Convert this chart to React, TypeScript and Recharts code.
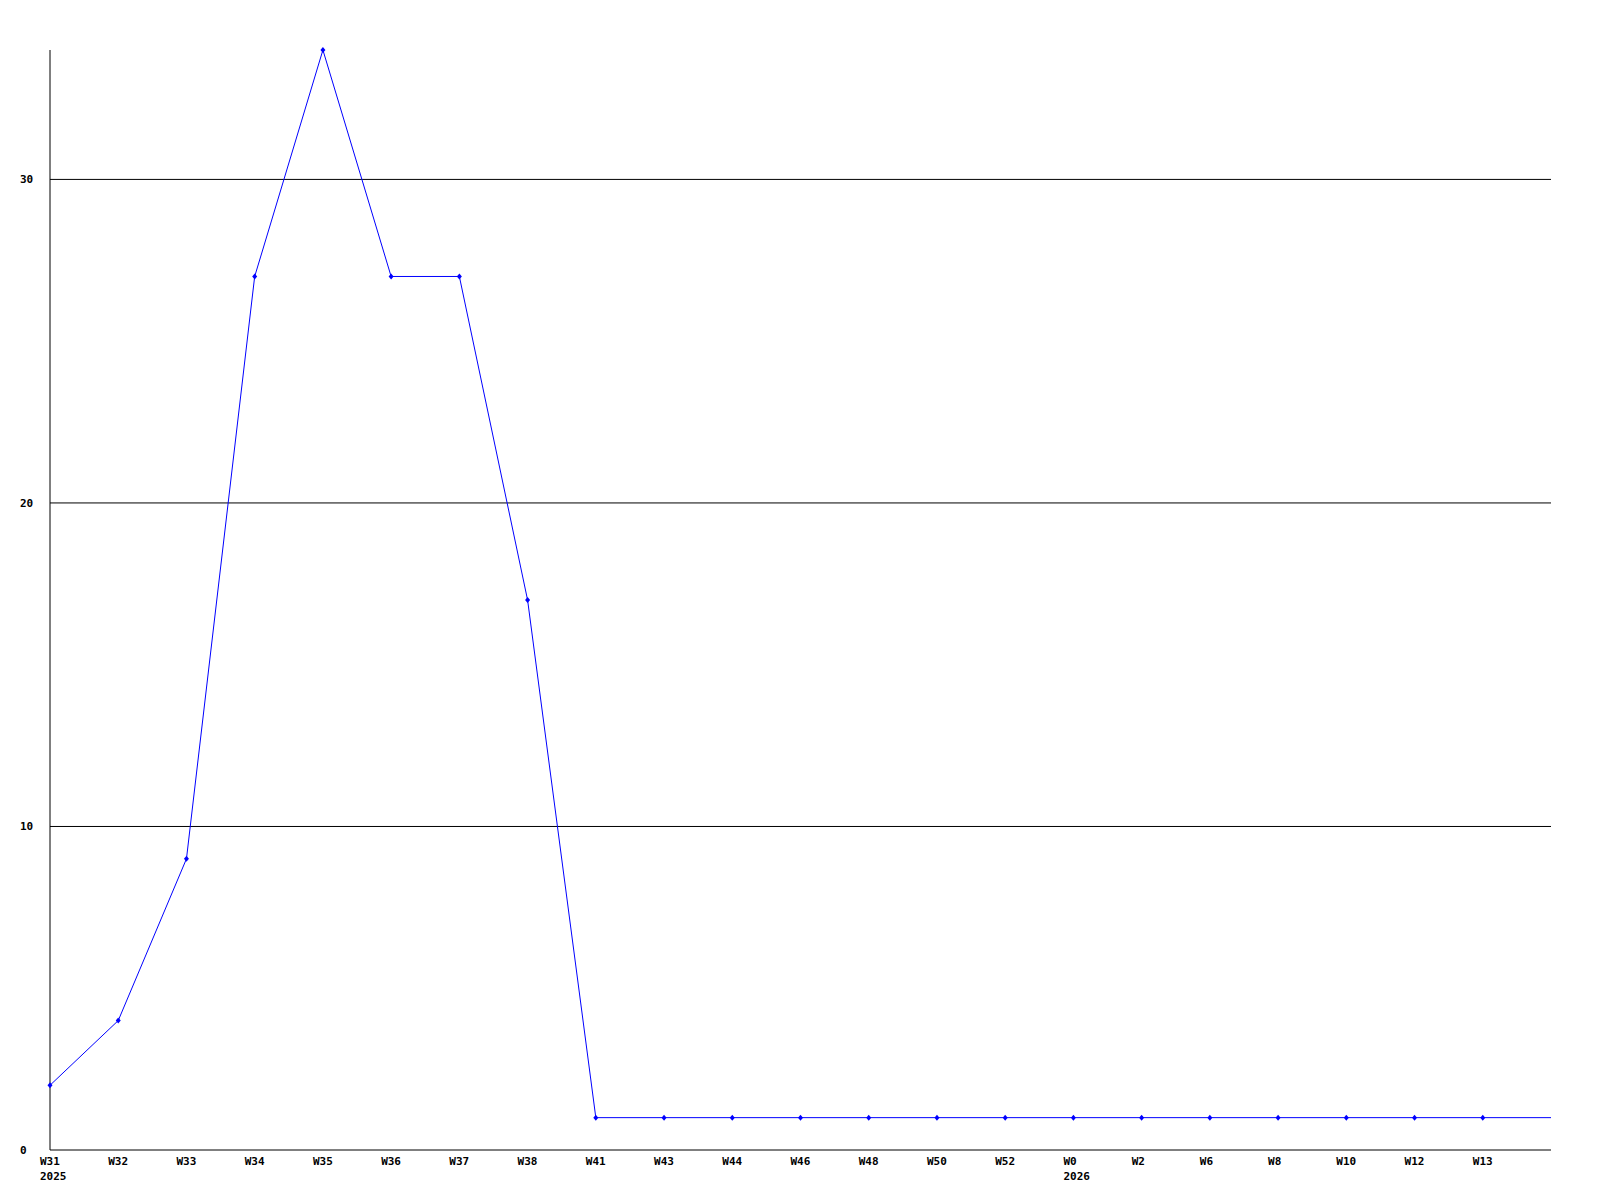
import { LineChart, Line, XAxis, YAxis, ReferenceLine } from 'recharts';

const weeks = ['W31', 'W32', 'W33', 'W34', 'W35', 'W36', 'W37', 'W38', 'W41', 'W43', 'W44', 'W46', 'W48', 'W50', 'W52', 'W0', 'W2', 'W6', 'W8', 'W10', 'W12', 'W13', ''];
const years = ['2025', '', '', '', '', '', '', '', '', '', '', '', '', '', '', '2026', '', '', '', '', '', '', ''];
const counts = [2, 4, 9, 27, 34, 27, 27, 17, 1, 1, 1, 1, 1, 1, 1, 1, 1, 1, 1, 1, 1, 1, 1];
const yTicks = [0, 10, 20, 30];

const data = weeks.map((w, i) => ({ week: w, year: years[i], count: counts[i] }));

const FONT = '"DejaVu Sans Mono", "Liberation Mono", monospace';

function WeekTick({ x, y, payload, index }: any) {
  const year = years[index];
  return (
    <g>
      <text x={x - 10} y={y + 7} fontFamily={FONT} fontSize={11} fontWeight="bold" fill="#000">
        {payload.value}
      </text>
      {year && (
        <text x={x - 10} y={y + 22} fontFamily={FONT} fontSize={11} fontWeight="bold" fill="#000">
          {year}
        </text>
      )}
    </g>
  );
}

function CountTick({ y, payload }: any) {
  return (
    <text x={20} y={y + 4} fontFamily={FONT} fontSize={11} fontWeight="bold" fill="#000">
      {payload.value}
    </text>
  );
}

function Marker({ cx, cy, index }: any) {
  if (index === counts.length - 1) return <g key={index} />;
  return (
    <path
      key={index}
      d={`M${cx},${cy - 3} L${cx + 2.5},${cy} L${cx},${cy + 3} L${cx - 2.5},${cy} Z`}
      fill="#0000ff"
    />
  );
}

export default function App() {
  return (
    <div style={{ position: 'absolute', left: 0, top: 0, background: '#fff' }}>
      <LineChart width={1600} height={1200} data={data} margin={{ top: 50, right: 49, bottom: 0, left: 0 }}>
        <XAxis
          dataKey="week"
          scale="point"
          padding={{ left: 0, right: 0 }}
          interval={0}
          height={50}
          axisLine={{ stroke: '#000', strokeWidth: 1 }}
          tickLine={false}
          tick={<WeekTick />}
        />
        <YAxis
          width={50}
          domain={[0, 34]}
          ticks={yTicks}
          interval={0}
          axisLine={{ stroke: '#000', strokeWidth: 1 }}
          tickLine={false}
          tick={<CountTick />}
        />
        {yTicks.filter((t) => t > 0).map((t) => (
          <ReferenceLine key={t} y={t} stroke="#000" strokeWidth={1} />
        ))}
        <Line
          type="linear"
          dataKey="count"
          stroke="#0000ff"
          strokeWidth={1}
          dot={<Marker />}
          activeDot={false}
          isAnimationActive={false}
        />
      </LineChart>
    </div>
  );
}
